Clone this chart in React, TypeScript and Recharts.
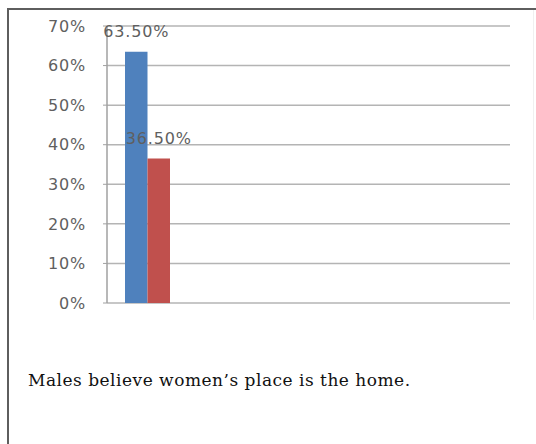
import React from 'react'
import { BarChart, Bar, XAxis, YAxis, CartesianGrid, LabelList } from 'recharts'

// one survey statement, remaining category slots are left empty on the axis
const categories = ['Males believe women’s place is the home.', 'q2', 'q3', 'q4', 'q5']
const agreeValues = [63.5, null, null, null, null]
const disagreeValues = [36.5, null, null, null, null]
const yTicks = [0, 10, 20, 30, 40, 50, 60, 70]

const caption = 'Males believe women’s place is the home.'

const data = categories.map((name, i) => ({
  name,
  agree: agreeValues[i],
  disagree: disagreeValues[i],
}))

const tickFont = { fill: '#5f5f5f', fontSize: 16, fontFamily: 'DejaVu Sans', letterSpacing: 0.8 }

const fmtPct = (v: number | string | null) => (v == null ? '' : `${Number(v).toFixed(2)}%`)

export default function App() {
  return (
    <div
      style={{
        position: 'absolute',
        left: 0,
        top: 0,
        width: 536,
        height: 444,
        overflow: 'hidden',
        background: '#fff',
      }}
    >
      {/* outer frame: only top and left edges fall inside the view */}
      <div
        style={{
          position: 'absolute',
          left: 7,
          top: 8,
          width: 700,
          height: 600,
          borderTop: '2px solid #5e5e5e',
          borderLeft: '2px solid #5e5e5e',
        }}
      />
      <div
        style={{
          position: 'absolute',
          left: 533,
          top: 10,
          height: 310,
          borderLeft: '1px solid #f0f0f0',
        }}
      />
      <div style={{ position: 'absolute', left: 0, top: 0 }}>
        <BarChart
          width={536}
          height={444}
          data={data}
          margin={{ top: 26, right: 26, bottom: 141, left: 0 }}
          barGap={0}
          barSize={22.5}
        >
          <CartesianGrid vertical={false} stroke="#b4b4b4" strokeWidth={1.5} />
          <XAxis
            dataKey="name"
            height={0}
            tick={false}
            tickLine={false}
            axisLine={{ stroke: '#a0a0a0', strokeWidth: 1.5 }}
          />
          <YAxis
            width={107}
            domain={[0, 70]}
            ticks={yTicks}
            interval={0}
            tickFormatter={(v: number) => `${v}%`}
            tick={tickFont}
            tickSize={4}
            tickMargin={17}
            tickLine={{ stroke: '#a0a0a0' }}
            axisLine={{ stroke: '#a0a0a0', strokeWidth: 1.5 }}
          />
          <Bar dataKey="agree" fill="#4f81bd" isAnimationActive={false}>
            <LabelList dataKey="agree" position="top" offset={15} formatter={fmtPct} style={tickFont} />
          </Bar>
          <Bar dataKey="disagree" fill="#c0504d" isAnimationActive={false}>
            <LabelList dataKey="disagree" position="top" offset={15} formatter={fmtPct} style={tickFont} />
          </Bar>
        </BarChart>
      </div>
      <div
        style={{
          position: 'absolute',
          left: 28,
          top: 372,
          fontFamily: 'DejaVu Serif',
          fontSize: 17,
          lineHeight: '17px',
          letterSpacing: 0.5,
          color: '#111',
          whiteSpace: 'nowrap',
        }}
      >
        {caption}
      </div>
    </div>
  )
}
